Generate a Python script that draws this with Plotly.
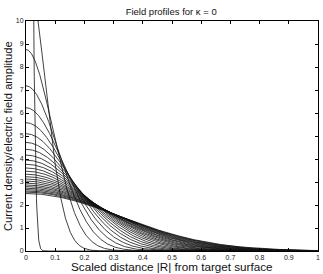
import numpy as np
import plotly.graph_objects as go

# Peak amplitude at |R| = 0 of each field profile (off-scale ones estimated)
peak_values = [56.4, 12.24, 8.76, 7.18, 6.23, 5.58, 5.10, 4.72, 4.42, 4.17,
               3.95, 3.77, 3.61, 3.47, 3.34, 3.23, 3.13, 3.04, 2.95, 2.87,
               2.80, 2.73, 2.67, 2.61, 2.56, 2.50]

x_ticks = [0, 0.1, 0.2, 0.3, 0.4, 0.5, 0.6, 0.7, 0.8, 0.9, 1]
x_tick_labels = ["0", "0.1", "0.2", "0.3", "0.4", "0.5", "0.6", "0.7", "0.8", "0.9", "1"]
y_ticks = list(range(0, 11))

r = np.linspace(0, 1, 1201)

fig = go.Figure()
for a in peak_values:
    # unit-area half-Gaussian profile with the given peak amplitude
    y = a * np.exp(-np.pi / 4.0 * (a * r) ** 2)
    fig.add_trace(go.Scatter(x=r, y=y, mode="lines",
                             line=dict(color="#111111", width=0.8),
                             showlegend=False, hoverinfo="skip"))

axis_common = dict(showgrid=False, zeroline=False, showline=True, linecolor="black",
                   linewidth=1, mirror="ticks", ticks="inside", ticklen=3,
                   tickcolor="black", tickfont=dict(size=7, color="#222"),
                   automargin=False)

fig.update_xaxes(range=[0, 1], tickvals=x_ticks, ticktext=x_tick_labels, **axis_common)
fig.update_yaxes(range=[0, 10], tickvals=y_ticks, **axis_common)

fig.update_layout(
    width=323, height=274,
    margin=dict(l=26, r=5, t=21, b=23, autoexpand=False),
    paper_bgcolor="white", plot_bgcolor="white",
    font=dict(family="Liberation Sans, Arial, sans-serif"),
    title=dict(text="Field profiles for \u03ba = 0", x=0.53, xanchor="center",
               y=0.958, yanchor="middle", font=dict(size=9.5, color="#111")),
    annotations=[
        dict(text="Scaled distance |R| from target surface", xref="paper", yref="paper",
             x=0.5, y=0, yshift=-15, xanchor="center", yanchor="middle",
             showarrow=False, font=dict(size=11.7, color="#111")),
        dict(text="Current density/electric field amplitude", xref="paper", yref="paper",
             x=0, y=0.5, xshift=-18, textangle=-90, xanchor="center", yanchor="middle",
             showarrow=False, font=dict(size=11.2, color="#111")),
    ],
)

fig.write_html("out.html", config={"displayModeBar": False},
               post_script="document.body.style.margin='0';document.body.style.overflow='hidden';")
